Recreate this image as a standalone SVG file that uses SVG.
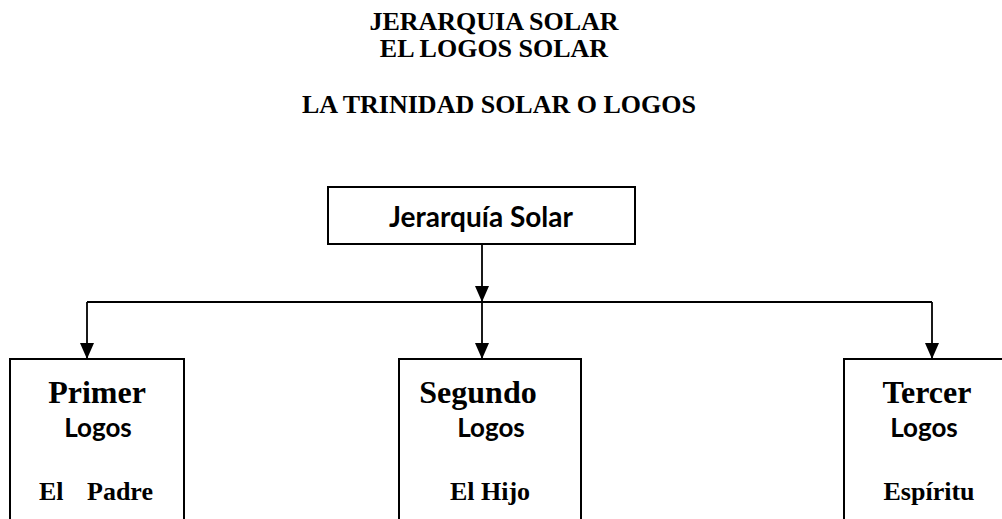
<svg xmlns="http://www.w3.org/2000/svg" width="1002" height="519" viewBox="0 0 1002 519">
<defs>
<marker id="arr" viewBox="0 0 16 14" markerWidth="16" markerHeight="14" refX="16" refY="7" orient="auto" markerUnits="userSpaceOnUse">
<path d="M0,0 L16,7 L0,14 Z" fill="#000"/>
</marker>
<style>
.serif{font-family:"Liberation Serif","Times New Roman",serif;font-weight:bold;fill:#000}
.sans{font-family:Lato,"Open Sans","Liberation Sans",sans-serif;font-weight:bold;fill:#000}
.box{fill:#fff;stroke:#000;stroke-width:2}
.ln{fill:none;stroke:#000;stroke-width:1.8}
</style>
</defs>
<rect width="1002" height="519" fill="#fff"/>
<g id="titles">
<text class="serif" x="494" y="30" font-size="26" text-anchor="middle">JERARQUIA SOLAR</text>
<text class="serif" x="494" y="57" font-size="26" text-anchor="middle">EL LOGOS SOLAR</text>
<text class="serif" x="499" y="113" font-size="26" text-anchor="middle">LA TRINIDAD SOLAR O LOGOS</text>
</g>
<g id="connectors">
<line class="ln" x1="482" y1="244" x2="482" y2="302" marker-end="url(#arr)"/>
<line class="ln" x1="87" y1="302" x2="932" y2="302"/>
<line class="ln" x1="87" y1="302" x2="87" y2="359" marker-end="url(#arr)"/>
<line class="ln" x1="482" y1="302" x2="482" y2="359" marker-end="url(#arr)"/>
<line class="ln" x1="932" y1="302" x2="932" y2="359" marker-end="url(#arr)"/>
</g>
<g id="node-jerarquia">
<rect class="box" x="328" y="187" width="307" height="57"/>
<text class="sans" x="481" y="227" font-size="28" text-anchor="middle">Jerarquía Solar</text>
</g>
<g id="node-primer">
<rect class="box" x="10" y="359" width="174" height="180"/>
<text class="serif" x="97" y="403" font-size="32" text-anchor="middle">Primer</text>
<text class="sans" x="98" y="437" font-size="26" text-anchor="middle">Logos</text>
<text class="serif" x="39" y="500" font-size="26">El</text>
<text class="serif" x="87" y="500" font-size="26">Padre</text>
</g>
<g id="node-segundo">
<rect class="box" x="399" y="359" width="182" height="180"/>
<text class="serif" x="478" y="403" font-size="32" text-anchor="middle">Segundo</text>
<text class="sans" x="491" y="437" font-size="26" text-anchor="middle">Logos</text>
<text class="serif" x="490" y="500" font-size="26" text-anchor="middle">El Hijo</text>
</g>
<g id="node-tercer">
<rect class="box" x="844" y="359" width="180" height="180"/>
<text class="serif" x="927" y="403" font-size="32" text-anchor="middle">Tercer</text>
<text class="sans" x="924" y="437" font-size="26" text-anchor="middle">Logos</text>
<text class="serif" x="929" y="500" font-size="26" text-anchor="middle">Espíritu</text>
</g>
</svg>
